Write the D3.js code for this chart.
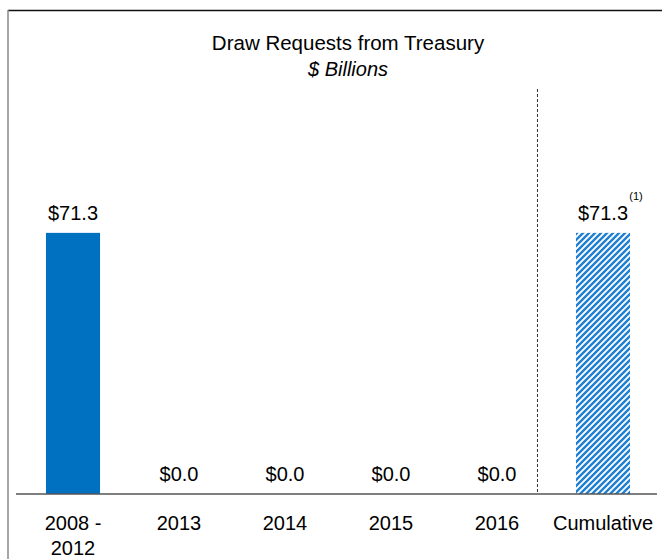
<!DOCTYPE html>
<html>
<head>
<meta charset="utf-8">
<script src="https://cdn.jsdelivr.net/npm/d3@7"></script>
<style>
  body { margin: 0; background: #fff; }
  text { font-family: "Liberation Sans", Arial, sans-serif; fill: #000; }
</style>
</head>
<body>
<div id="chart"></div>
<script>
// chart data
var categories = ["2008 - 2012", "2013", "2014", "2015", "2016", "Cumulative"];
var tickLines = [["2008 -", "2012"], ["2013"], ["2014"], ["2015"], ["2016"], ["Cumulative"]];
var values = [71.3, 0.0, 0.0, 0.0, 0.0, 71.3];
var hatched = [false, false, false, false, false, true];

var width = 662,
    height = 559;

var svg = d3.select("#chart").append("svg")
    .attr("width", width)
    .attr("height", height);

// hatch pattern for the cumulative bar
var defs = svg.append("defs");
var pat = defs.append("pattern")
    .attr("id", "hatch")
    .attr("patternUnits", "userSpaceOnUse")
    .attr("width", 6)
    .attr("height", 6);
pat.append("rect").attr("width", 6).attr("height", 6).attr("fill", "#fff");
pat.append("path")
    .attr("d", "M0,6 L6,0 M-1,1 L1,-1 M5,7 L7,5")
    .attr("stroke", "#1f7fd0")
    .attr("stroke-width", 2.4);

// frame
svg.append("line").attr("x1", 8).attr("x2", width).attr("y1", 10.5).attr("y2", 10.5)
    .attr("stroke", "#111").attr("stroke-width", 1.5);
svg.append("line").attr("x1", 8).attr("x2", 8).attr("y1", 10).attr("y2", height)
    .attr("stroke", "#888").attr("stroke-width", 1.5);

var x = d3.scaleBand()
    .domain(categories)
    .range([20, 656])
    .paddingInner(0.49)
    .paddingOuter(0.245);

var y = d3.scaleLinear()
    .domain([0, 80])
    .range([494, 201]);

// title
svg.append("text")
    .attr("x", 348).attr("y", 50)
    .attr("text-anchor", "middle")
    .style("font-size", "20.5px")
    .text("Draw Requests from Treasury");
svg.append("text")
    .attr("x", 348).attr("y", 76)
    .attr("text-anchor", "middle")
    .style("font-size", "20px")
    .style("font-style", "italic")
    .text("$ Billions");

// separator before cumulative
var sepX = x("Cumulative") - 38.5;
svg.append("line")
    .attr("x1", sepX).attr("x2", sepX)
    .attr("y1", 89).attr("y2", y(0))
    .attr("stroke", "#333")
    .attr("stroke-width", 1)
    .attr("stroke-dasharray", "3,2");

// bars
svg.selectAll("rect.bar")
    .data(values)
    .enter()
    .append("rect")
    .attr("class", "bar")
    .attr("x", function(d, i) { return x(categories[i]); })
    .attr("width", x.bandwidth())
    .attr("y", function(d) { return y(d); })
    .attr("height", function(d) { return y(0) - y(d); })
    .attr("fill", function(d, i) { return hatched[i] ? "url(#hatch)" : "#0070c0"; });

// value labels
svg.selectAll("text.val")
    .data(values)
    .enter()
    .append("text")
    .attr("class", "val")
    .attr("x", function(d, i) { return x(categories[i]) + x.bandwidth() / 2; })
    .attr("y", function(d) { return y(d) - 13; })
    .attr("text-anchor", "middle")
    .style("font-size", "20px")
    .text(function(d) { return "$" + d.toFixed(1); });

// footnote marker
var cx = x("Cumulative") + x.bandwidth() / 2;
svg.append("text")
    .attr("x", cx + 33).attr("y", y(values[5]) - 33)
    .attr("text-anchor", "middle")
    .style("font-size", "11px")
    .text("(1)");

// baseline
svg.append("line")
    .attr("x1", 16).attr("x2", 657)
    .attr("y1", y(0)).attr("y2", y(0))
    .attr("stroke", "#555")
    .attr("stroke-width", 1.5);

// category labels
var ticks = svg.selectAll("text.cat")
    .data(categories)
    .enter()
    .append("text")
    .attr("class", "cat")
    .attr("x", function(d) { return x(d) + x.bandwidth() / 2; })
    .attr("y", 530)
    .attr("text-anchor", "middle")
    .style("font-size", "20px");
ticks.selectAll("tspan")
    .data(function(d, i) { return tickLines[i]; })
    .enter()
    .append("tspan")
    .attr("x", function() { return d3.select(this.parentNode).attr("x"); })
    .attr("dy", function(d, i) { return i === 0 ? 0 : 25; })
    .text(function(d) { return d; });
</script>
</body>
</html>
